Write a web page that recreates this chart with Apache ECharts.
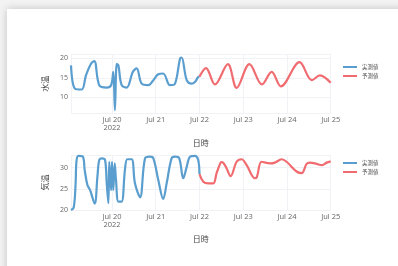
<!DOCTYPE html>
<html>
<head>
<meta charset="utf-8">
<script src="https://cdn.jsdelivr.net/npm/echarts@6/dist/echarts.min.js"></script>
<style>
	html, body { margin: 0; padding: 0; background: #f3f3f3; overflow: hidden; }
	#card { position: absolute; left: 7px; top: 9px; width: 420px; height: 290px; background: #fff;
		box-shadow: 0 0 8px rgba(0,0,0,0.2); }
	#chart { position: absolute; left: 0; top: 0; width: 398px; height: 266px; }
</style>
</head>
<body>
<div id="card"></div>
<div id="chart"></div>
<script>
// hours counted from Jul 20 2022 00:00
var waterObsHours = [-22.5, -20.3, -16.6, -14.3, -11.5, -9.7, -7, -2.9, -0.5, 0.7, 1.6, 2.6, 3.5, 5.3, 8.1, 11.4, 13.5, 16.3, 19.9, 22.7, 25.4, 28.1, 31.8, 34.6, 37.3, 38.2, 41, 43.7, 45.5, 47.3, 48];
var waterObsVals  = [18.2, 12.2, 12.0, 15.6, 18.6, 19.3, 13.1, 12.5, 13.1, 16.5, 6.7, 18.6, 18.2, 13.1, 12.5, 16.5, 17.4, 13.5, 13.1, 14.4, 15.9, 16.1, 13.1, 13.5, 19.9, 20.2, 14.4, 13.5, 13.9, 15.2, 15.3];
var waterPredHours = [48, 51.6, 56.5, 63.6, 68.4, 75.4, 82.3, 87.6, 92.7, 102.9, 109.7, 114.1, 120];
var waterPredVals  = [15.3, 17.5, 13.3, 18.5, 12.4, 18.5, 13.3, 16.5, 12.8, 19.0, 14.4, 15.6, 13.7];

var airObsHours = [-22.5, -21, -20, -19.5, -18.5, -16, -15, -13.5, -12, -9.5, -8, -7, -5.5, -3.8, -2.9, -2, -1.5, -0.5, 0, 0.7, 1.5, 2.2, 3.5, 5.3, 7.1, 8.4, 10.8, 12.6, 15.4, 18.1, 20.8, 22.7, 25.4, 28.1, 30, 32.7, 34.6, 36.9, 39.1, 41, 42.8, 45.5, 47.3, 48];
var airObsVals  = [20.0, 20.6, 26.0, 31.5, 32.8, 32.6, 29.5, 25.9, 24.7, 21.5, 27.9, 31.8, 32.2, 31.8, 26.3, 21.6, 31.4, 24.7, 31.4, 24.7, 31.0, 27.1, 22.0, 22.0, 29.5, 32.0, 32.0, 26.3, 23.0, 32.2, 32.6, 32.2, 27.1, 22.6, 26.3, 32.2, 32.6, 32.2, 27.5, 30.2, 32.6, 32.8, 31.8, 28.5];
var airPredHours = [48, 50.1, 52.8, 55.6, 57.4, 59.6, 60.3, 62.5, 65.1, 68.4, 71.1, 73.9, 78.4, 79.5, 82.1, 86.7, 89.4, 93.1, 95.8, 101.3, 104.1, 106.8, 108.6, 112.3, 115, 117.8, 120];
var airPredVals  = [28.5, 26.7, 26.3, 26.3, 28.7, 31.2, 31.3, 30.2, 28.0, 31.4, 32.0, 30.6, 27.5, 27.8, 31.4, 31.0, 31.2, 32.0, 31.4, 29.1, 28.7, 30.9, 31.2, 30.9, 30.6, 31.2, 31.5];

var tickLabels = ['Jul 20\n2022', 'Jul 21', 'Jul 22', 'Jul 23', 'Jul 24', 'Jul 25'];
var seriesNames = ['実測値', '予測値'];
var yTitles = ['水温', '気温'];

var BASE = Date.UTC(2022, 6, 20);
var HOUR = 3600000, DAY = 24 * HOUR;

function pairs(hours, vals) {
	var out = [];
	for (var i = 0; i < hours.length; i++) out.push([BASE + hours[i] * HOUR, vals[i]]);
	return out;
}

var font = "'Open Sans', sans-serif";
var blue = '#5a9ecf', red = '#f06c70';

function xAxisOpt(idx) {
	return {
		type: 'time', gridIndex: idx,
		min: BASE - 22.5 * HOUR, max: BASE + 120 * HOUR + 60000,
		minInterval: DAY, maxInterval: DAY,
		name: '日時', nameLocation: 'middle', nameGap: idx === 0 ? 26 : 25,
		nameTextStyle: { fontSize: 8, color: '#444', fontFamily: "'Noto Sans CJK JP', sans-serif" },
		axisLine: { show: false }, axisTick: { show: false },
		axisLabel: {
			fontSize: 7.5, color: '#666', fontFamily: font, margin: 3, lineHeight: 8,
			showMaxLabel: true, hideOverlap: false,
			formatter: function(v) {
				var d = (v - BASE) / DAY;
				if (Math.abs(d - Math.round(d)) > 1e-3) return '';
				return tickLabels[Math.round(d)] || '';
			}
		},
		splitLine: { show: true, lineStyle: { color: '#f1f2f5', width: 1 } }
	};
}

function yAxisOpt(idx, min, max) {
	return {
		type: 'value', gridIndex: idx, min: min, max: max, splitNumber: 3,
		name: yTitles[idx], nameLocation: 'middle', nameRotate: 90, nameGap: 21,
		nameTextStyle: { fontSize: 8, color: '#444', fontFamily: "'Noto Sans CJK JP', sans-serif" },
		axisLine: { show: false }, axisTick: { show: false },
		axisLabel: { fontSize: 7, color: '#666', fontFamily: font, margin: 3, showMinLabel: idx === 1, showMaxLabel: false },
		splitLine: { show: true, lineStyle: { color: '#f1f2f5', width: 1 } }
	};
}

function lineSeries(name, idx, data, color) {
	return {
		name: name, type: 'line', xAxisIndex: idx, yAxisIndex: idx,
		data: data, showSymbol: false, smooth: 0.35,
		lineStyle: { color: color, width: 2.2 }, itemStyle: { color: color }
	};
}

function legendOpt(top) {
	return {
		left: 338, top: top, orient: 'vertical', icon: 'rect',
		itemWidth: 14, itemHeight: 2, itemGap: 2,
		textStyle: { fontSize: 5.5, lineHeight: 7, color: '#555', fontFamily: "'Noto Sans CJK JP', sans-serif" },
		data: seriesNames
	};
}

var option = {
	animation: false,
	useUTC: true,
	grid: [
		{ left: 71, top: 54.4, width: 259.7, height: 58.5 },
		{ left: 71, top: 155, width: 259.7, height: 55 }
	],
	legend: [legendOpt(58.5), legendOpt(154.5)],
	xAxis: [xAxisOpt(0), xAxisOpt(1)],
	yAxis: [yAxisOpt(0, 6, 21), yAxisOpt(1, 20, 33)],
	series: [
		lineSeries(seriesNames[0], 0, pairs(waterObsHours, waterObsVals), blue),
		lineSeries(seriesNames[1], 0, pairs(waterPredHours, waterPredVals), red),
		lineSeries(seriesNames[0], 1, pairs(airObsHours, airObsVals), blue),
		lineSeries(seriesNames[1], 1, pairs(airPredHours, airPredVals), red)
	]
};

var myChart = echarts.init(document.getElementById('chart'));
myChart.setOption(option);
</script>
</body>
</html>
